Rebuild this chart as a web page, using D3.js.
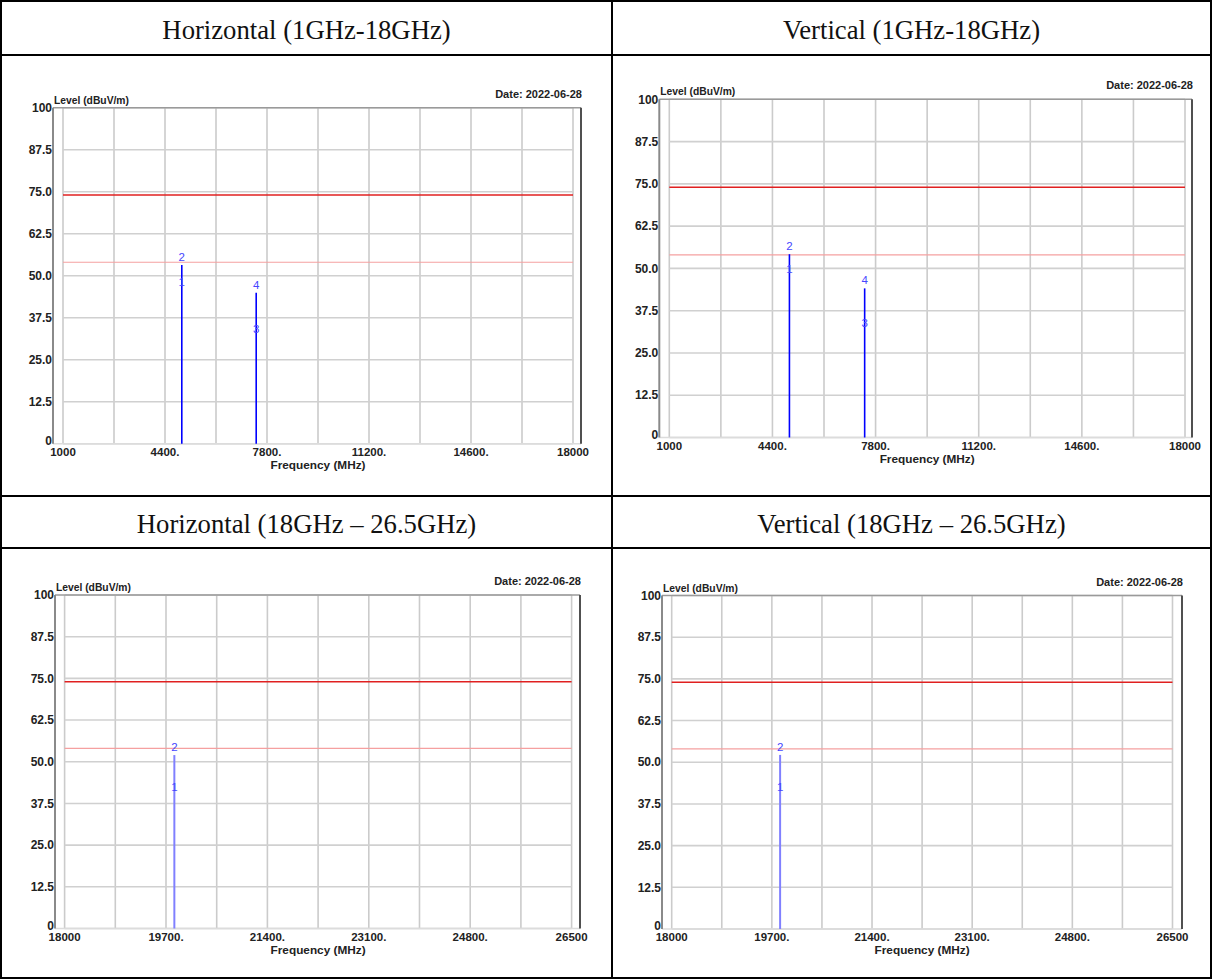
<!DOCTYPE html>
<html>
<head>
<meta charset="utf-8">
<script src="https://cdn.jsdelivr.net/npm/d3@7"></script>
<style>
  html, body { margin: 0; padding: 0; background: #fff; }
  svg { display: block; }
</style>
</head>
<body>
<svg id="sheet" width="1213" height="979"></svg>
<script>
// ---- data ----------------------------------------------------------------
const panelTitles = [
  "Horizontal (1GHz-18GHz)",
  "Vertical (1GHz-18GHz)",
  "Horizontal (18GHz \u2013 26.5GHz)",
  "Vertical (18GHz \u2013 26.5GHz)"
];
const dateLabel = "Date: 2022-06-28";
const yAxisTitle = "Level (dBuV/m)";
const xAxisTitle = "Frequency (MHz)";

const levelTicks = [0, 12.5, 25, 37.5, 50, 62.5, 75, 87.5, 100];
const levelTickLabels = ["0", "12.5", "25.0", "37.5", "50.0", "62.5", "75.0", "87.5", "100"];

const lowBandRange = [1000, 18000];
const lowBandTicks = [1000, 4400, 7800, 11200, 14600, 18000];
const lowBandTickLabels = ["1000", "4400.", "7800.", "11200.", "14600.", "18000"];
const lowBandGridStep = 1700;

const highBandRange = [18000, 26500];
const highBandTicks = [18000, 19700, 21400, 23100, 24800, 26500];
const highBandTickLabels = ["18000", "19700.", "21400.", "23100.", "24800.", "26500"];
const highBandGridStep = 850;

const peakLimit = 74;     // dBuV/m
const averageLimit = 54;  // dBuV/m

// emissions: frequency (MHz), peak level, average level
const hLowFreq = [4960, 7440];
const hLowPeak = [53.2, 44.9];
const hLowAvg  = [45.8, 31.7];

const vLowFreq = [4960, 7440];
const vLowPeak = [54.2, 44.1];
const vLowAvg  = [47.6, 31.4];

const hHighFreq = [19840];
const hHighPeak = [52.0];
const hHighAvg  = [40.1];

const vHighFreq = [19840];
const vHighPeak = [52.2];
const vHighAvg  = [40.1];

// ---- layout ---------------------------------------------------------------
const svg = d3.select("#sheet");
const colX = [1, 612, 1211];
const rowY = [1, 55, 496, 548, 978];

const panels = [
  { title: panelTitles[0], col: 0, titleRow: 0,
    range: lowBandRange, ticks: lowBandTicks, tickLabels: lowBandTickLabels, step: lowBandGridStep,
    freq: hLowFreq, peak: hLowPeak, avg: hLowAvg,
    x0: 63, x1: 573, yTop: 107.7, yBot: 443.7, fl: 53, fr: 581, trace: "#0000ff", traceW: 1.6 },
  { title: panelTitles[1], col: 1, titleRow: 0,
    range: lowBandRange, ticks: lowBandTicks, tickLabels: lowBandTickLabels, step: lowBandGridStep,
    freq: vLowFreq, peak: vLowPeak, avg: vLowAvg,
    x0: 669.3, x1: 1185, yTop: 99.3, yBot: 437.5, fl: 659.3, fr: 1192, trace: "#0000ff", traceW: 1.6 },
  { title: panelTitles[2], col: 0, titleRow: 2,
    range: highBandRange, ticks: highBandTicks, tickLabels: highBandTickLabels, step: highBandGridStep,
    freq: hHighFreq, peak: hHighPeak, avg: hHighAvg,
    x0: 64.6, x1: 571.6, yTop: 595, yBot: 928.5, fl: 55, fr: 580, trace: "#8080ff", traceW: 2 },
  { title: panelTitles[3], col: 1, titleRow: 2,
    range: highBandRange, ticks: highBandTicks, tickLabels: highBandTickLabels, step: highBandGridStep,
    freq: vHighFreq, peak: vHighPeak, avg: vHighAvg,
    x0: 671.7, x1: 1172.5, yTop: 595.5, yBot: 929, fl: 662, fr: 1182, trace: "#8080ff", traceW: 2 }
];

const narrowFont = "'Liberation Sans Narrow', 'Arial Narrow', 'Liberation Sans', Arial, sans-serif";
const labelFont = "'Liberation Sans', Arial, sans-serif";
const titleFont = "'Liberation Serif', 'Times New Roman', serif";

// ---- table frame ------------------------------------------------------------
const table = svg.append("g").attr("class", "table");
rowY.forEach(y => table.append("line")
  .attr("x1", colX[0] - 1).attr("x2", colX[2] + 1).attr("y1", y).attr("y2", y)
  .attr("stroke", "#000").attr("stroke-width", 2));
colX.forEach(x => table.append("line")
  .attr("x1", x).attr("x2", x).attr("y1", rowY[0] - 1).attr("y2", rowY[4] + 1)
  .attr("stroke", "#000").attr("stroke-width", 2));

// ---- panels -----------------------------------------------------------------
panels.forEach(p => {
  const cx = (colX[p.col] + colX[p.col + 1]) / 2;
  const cy = (rowY[p.titleRow] + rowY[p.titleRow + 1]) / 2 + 2;
  svg.append("text")
    .attr("x", cx).attr("y", cy)
    .attr("text-anchor", "middle").attr("dominant-baseline", "central")
    .attr("font-family", titleFont).attr("font-size", 26.7).attr("fill", "#111")
    .text(p.title);

  const x = d3.scaleLinear().domain(p.range).range([p.x0, p.x1]);
  const y = d3.scaleLinear().domain([0, 100]).range([p.yBot, p.yTop]);
  const g = svg.append("g");

  // grid
  const gridX = d3.range(p.range[0], p.range[1] + 1, p.step);
  g.selectAll("line.gx").data(gridX).join("line").attr("class", "gx")
    .attr("x1", d => x(d)).attr("x2", d => x(d))
    .attr("y1", y(100)).attr("y2", y(0))
    .attr("stroke", "#cbcbcb").attr("stroke-width", 1.6);
  g.selectAll("line.gy").data(levelTicks).join("line").attr("class", "gy")
    .attr("x1", x(p.range[0])).attr("x2", x(p.range[1]))
    .attr("y1", d => y(d)).attr("y2", d => y(d))
    .attr("stroke", "#d0d0d0").attr("stroke-width", 1.6);

  // frame
  g.append("line").attr("x1", p.fl).attr("x2", p.fr).attr("y1", y(100)).attr("y2", y(100))
    .attr("stroke", "#9a9a9a").attr("stroke-width", 1.6);
  g.append("line").attr("x1", p.fl).attr("x2", p.fr).attr("y1", y(0)).attr("y2", y(0))
    .attr("stroke", "#dcdcdc").attr("stroke-width", 1.4);
  g.append("line").attr("x1", p.fl).attr("x2", p.fl).attr("y1", y(100)).attr("y2", y(0))
    .attr("stroke", "#8a8a8a").attr("stroke-width", 2);
  g.append("line").attr("x1", p.fr).attr("x2", p.fr).attr("y1", y(100)).attr("y2", y(0))
    .attr("stroke", "#505050").attr("stroke-width", 2);

  // limit lines
  g.append("line").attr("x1", x(p.range[0])).attr("x2", x(p.range[1]))
    .attr("y1", y(peakLimit)).attr("y2", y(peakLimit))
    .attr("stroke", "#e02020").attr("stroke-width", 1.6);
  g.append("line").attr("x1", x(p.range[0])).attr("x2", x(p.range[1]))
    .attr("y1", y(averageLimit)).attr("y2", y(averageLimit))
    .attr("stroke", "#f5a0a0").attr("stroke-width", 1.2);

  // emission traces
  g.selectAll("line.tr").data(p.freq).join("line").attr("class", "tr")
    .attr("x1", d => x(d)).attr("x2", d => x(d))
    .attr("y1", y(0)).attr("y2", (d, i) => y(p.peak[i]))
    .attr("stroke", p.trace).attr("stroke-width", p.traceW);

  // marker numbers: odd = average, even = peak
  const marks = [];
  p.freq.forEach((f, i) => {
    marks.push({ f, v: p.avg[i], n: 2 * i + 1 });
    marks.push({ f, v: p.peak[i], n: 2 * i + 2 });
  });
  g.selectAll("text.mk").data(marks).join("text").attr("class", "mk")
    .attr("x", d => x(d.f)).attr("y", d => y(d.v) - 4)
    .attr("text-anchor", "middle")
    .attr("font-family", labelFont).attr("font-size", 11.5)
    .attr("fill", "#4646ff")
    .text(d => d.n);

  // y tick labels
  g.selectAll("text.yt").data(levelTicks).join("text").attr("class", "yt")
    .attr("x", p.fl - 1).attr("y", d => y(d))
    .attr("dy", d => d === 0 ? "0.12em" : "0.35em")
    .attr("text-anchor", "end")
    .attr("font-family", narrowFont).attr("font-weight", "bold").attr("font-size", 12)
    .attr("fill", "#222")
    .text((d, i) => levelTickLabels[i]);

  // x tick labels
  g.selectAll("text.xt").data(p.ticks).join("text").attr("class", "xt")
    .attr("x", d => x(d)).attr("y", y(0) + 12)
    .attr("text-anchor", "middle")
    .attr("font-family", narrowFont).attr("font-weight", "bold").attr("font-size", 11.5)
    .attr("fill", "#222")
    .text((d, i) => p.tickLabels[i]);

  // axis titles and date
  g.append("text").attr("x", (p.x0 + p.x1) / 2).attr("y", y(0) + 25)
    .attr("text-anchor", "middle")
    .attr("font-family", narrowFont).attr("font-weight", "bold").attr("font-size", 11.8)
    .attr("fill", "#222").text(xAxisTitle);
  g.append("text").attr("x", p.fl + 1).attr("y", y(100) - 4)
    .attr("font-family", labelFont).attr("font-weight", "bold").attr("font-size", 10.3)
    .attr("fill", "#222").text(yAxisTitle);
  g.append("text").attr("x", p.fr + 1).attr("y", y(100) - 10)
    .attr("text-anchor", "end")
    .attr("font-family", labelFont).attr("font-weight", "bold").attr("font-size", 11)
    .attr("fill", "#222").text(dateLabel);
});
</script>
</body>
</html>
